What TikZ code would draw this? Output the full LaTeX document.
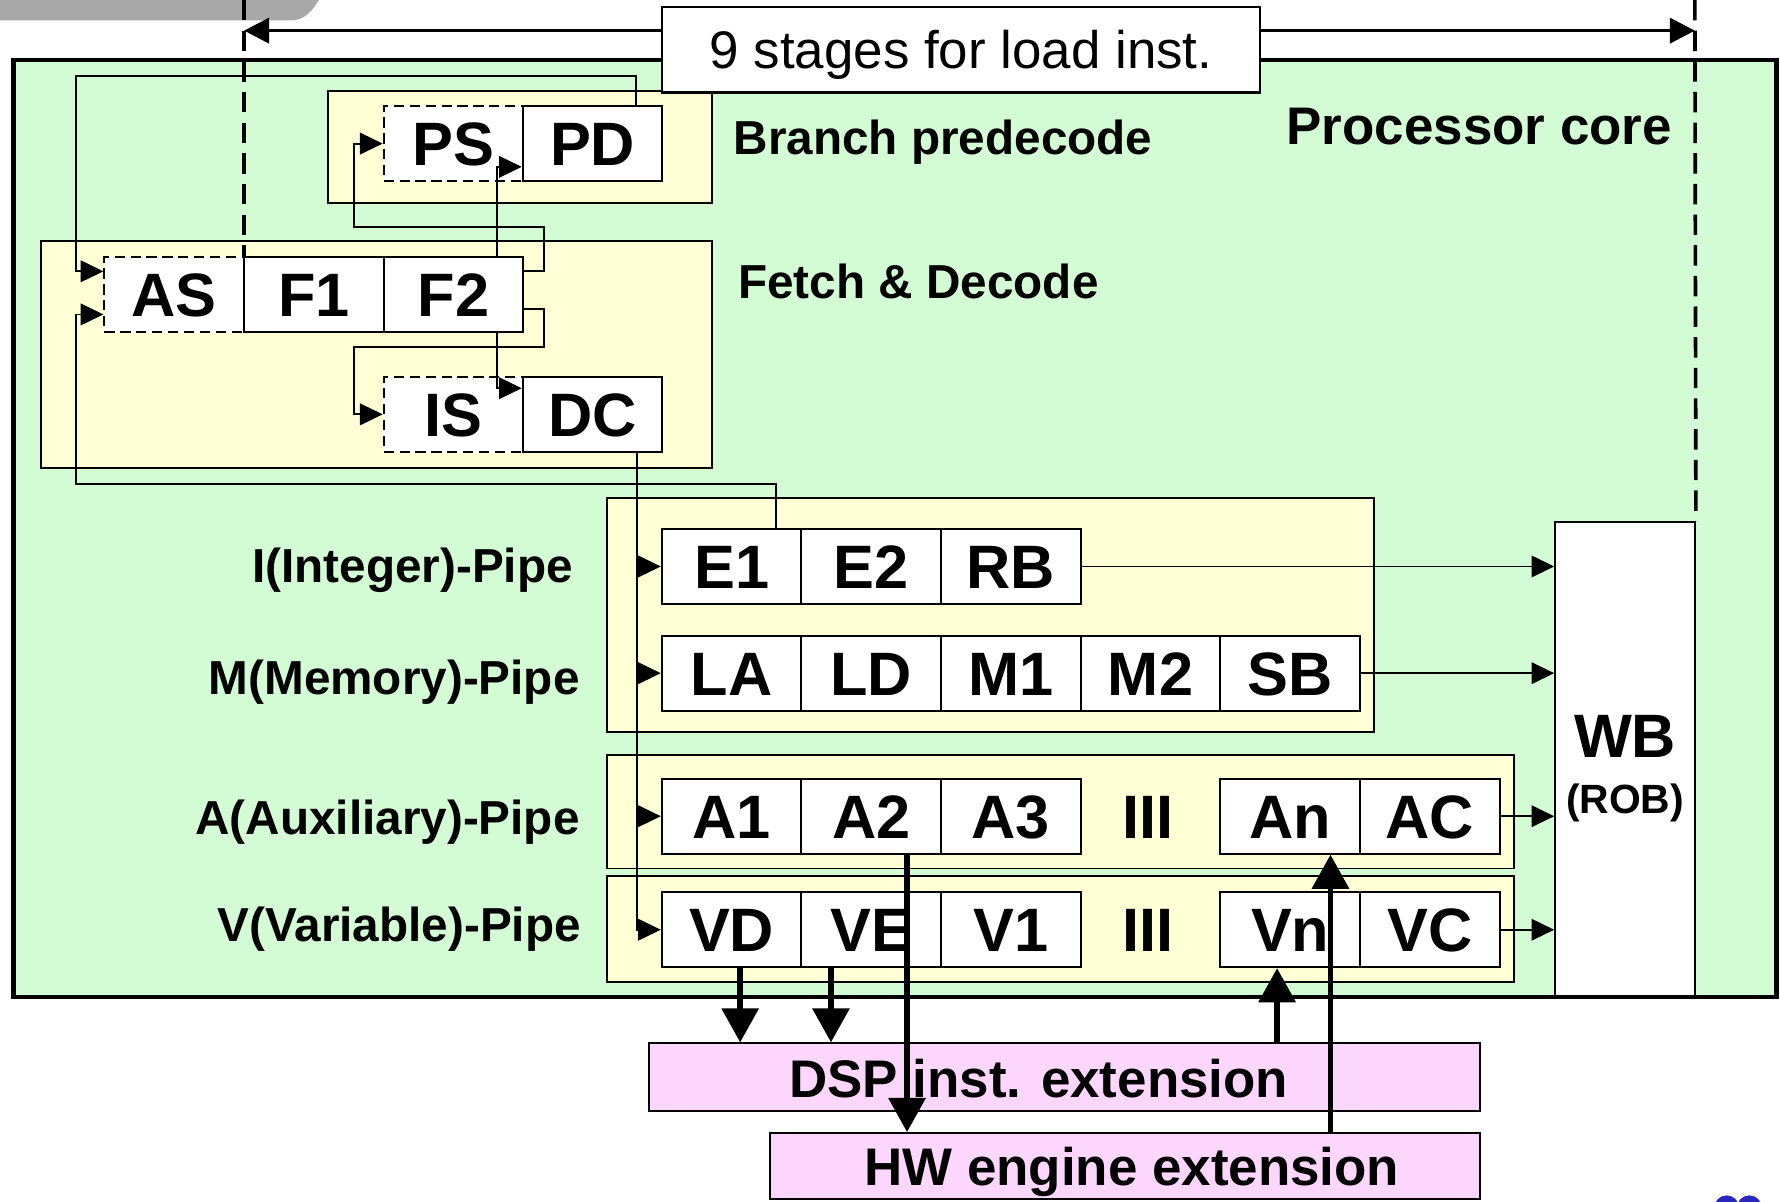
\documentclass[tikz,border=0pt]{standalone}
\usepackage{fontspec}
\setmainfont{Liberation Sans}
\usetikzlibrary{arrows.meta,calc}
\definecolor{coregreen}{RGB}{212,252,212}
\definecolor{pipeyellow}{RGB}{255,255,214}
\definecolor{extpink}{RGB}{252,214,252}
\definecolor{tabgrey}{RGB}{168,168,168}
\definecolor{logoblue}{RGB}{40,40,190}
\tikzset{
  stage/.style={draw, line width=0.9pt, fill=white, minimum width=61.5pt, minimum height=33pt, inner sep=0pt,
    font=\fontsize{27}{30}\selectfont\bfseries, text height=19.3pt, text depth=0pt},
  dstage/.style={stage, dash pattern=on 4.5pt off 2.5pt},
  container/.style={draw, line width=0.8pt, fill=pipeyellow},
  conn/.style={line width=0.8pt},
  arr/.style={conn, -{Triangle[length=10pt,width=9.5pt]}},
  tarr/.style={line width=2.4pt, -{Triangle[length=15pt,width=16pt]}},
  toparr/.style={line width=1.6pt, {Triangle[length=11pt,width=11pt]}-{Triangle[length=11pt,width=11pt]}},
  seclabel/.style={inner sep=0pt, font=\fontsize{21}{24}\selectfont\bfseries, text height=15pt, text depth=0pt},
  biglabel/.style={inner sep=0pt, font=\fontsize{23.3}{26}\selectfont\bfseries, text height=16.7pt, text depth=0pt},
  stagetext/.style={inner sep=0pt, font=\fontsize{27}{30}\selectfont\bfseries, text height=19.3pt, text depth=0pt},
  dashline/.style={line width=1.6pt, dash pattern=on 9pt off 4.5pt},
  extbox/.style={draw, line width=0.8pt, fill=extpink, inner sep=0pt},
}
\begin{document}
\begin{tikzpicture}[x=0.5pt,y=-0.5pt]
\useasboundingbox (0,0) rectangle (1568,1058);
% grey tab
\fill[tabgrey] (0,-2) -- (282,-2) to[out=-120,in=0] (256,18) -- (0,18) -- cycle;
% processor core
\draw[line width=1.9pt, fill=coregreen] (12,53) rectangle (1565,878);
% containers
\path[container] (289,80) rectangle (627,179);
\path[container] (36,212) rectangle (627,412);
\path[container] (535,439) rectangle (1210,645);
\path[container] (535,665) rectangle (1334,765);
\path[container] (535,772) rectangle (1334,865);
% stages
\node[dstage] (PS) at (399.5,126.5) {PS};
\node[stage]  (PD) at (522,126.5) {PD};
\node[dstage] (AS) at (153.5,259.5) {AS};
\node[stage]  (F1) at (276.5,259.5) {F1};
\node[stage]  (F2) at (399.5,259.5) {F2};
\node[dstage] (IS) at (399.5,365) {IS};
\node[stage]  (DC) at (522,365) {DC};
\node[stage] (E1) at (644.5,499) {E1};
\node[stage] (E2) at (767.5,499) {E2};
\node[stage] (RB) at (890.5,499) {RB};
\node[stage] (LA) at (644.5,593) {LA};
\node[stage] (LD) at (767.5,593) {LD};
\node[stage] (M1) at (890.5,593) {M1};
\node[stage] (M2) at (1013.5,593) {M2};
\node[stage] (SB) at (1136.5,593) {SB};
\node[stage] (A1) at (644.5,719) {A1};
\node[stage] (A2) at (767.5,719) {A2};
\node[stage] (A3) at (890.5,719) {A3};
\node[stagetext] (adots) at (1011,719) {III};
\node[stage] (An) at (1136.5,719) {An};
\node[stage] (AC) at (1259.5,719) {AC};
\node[stage] (VD) at (644.5,819) {VD};
\node[stage] (VE) at (767.5,819) {VE};
\node[stage] (V1) at (890.5,819) {V1};
\node[stagetext] (vdots) at (1011,819) {III};
\node[stage] (Vn) at (1136.5,819) {Vn};
\node[stage] (VC) at (1259.5,819) {VC};
% WB
\node[draw, line width=0.9pt, fill=white, minimum width=61.5pt, minimum height=208.5pt, inner sep=0pt] (WB) at (1431.5,668.5) {};
\node[stagetext] (wbT) at (1431.5,648) {WB};
\node[inner sep=0pt, font=\fontsize{18}{20}\selectfont\bfseries, text height=12.9pt, text depth=0pt] (robT) at (1431.5,704) {(ROB)};
% extension boxes
\node[extbox, minimum width=366pt, minimum height=30pt] (DSP) at (938,949) {};
\node[extbox, minimum width=313pt, minimum height=29pt] (HW) at (991,1027) {};
% logo fragment
\fill[logoblue] (1521,1064) circle[radius=11] (1541,1064) circle[radius=11];
% thin connectors
\coordinate (fbTop) at (67,67);
\coordinate (fbBot) at (67,426);
\draw[arr] ($(PD.north east)+(-24,0)$) |- (fbTop) |- ($(AS.west)+(0,-20.5)$);
\draw[arr] ($(E1.north east)+(-23,0)$) |- (fbBot) |- ($(AS.west)+(0,17.5)$);
\draw[arr] ($(F2.east)+(0,-20.5)$) -| (479,200) -| ($(PS.west)+(-25,0)$) -- (PS.west);
\draw[arr] ($(F2.east)+(0,12.5)$) -| (479,306) -| ($(IS.west)+(-25,0)$) -- (IS.west);
\draw[arr] ($(F2.north east)+(-24,0)$) |- ($(PD.west)+(0,20.5)$);
\draw[arr] ($(F2.south east)+(-24,0)$) |- ($(DC.west)+(0,-23)$);
\coordinate (busTop) at ($(DC.south east)+(-23,0)$);
\draw[arr] (busTop) |- (VD.west);
\foreach \n in {E1,LA,A1} \draw[arr] (busTop |- \n.west) -- (\n.west);
\foreach \n in {RB,SB,AC,VC} \draw[arr] (\n.east) -- (\n.east -| WB.west);
% thick connectors
\coordinate (vdo) at ($(VD.south)+(7.5,0)$);
\coordinate (veo) at ($(VE.south)+(-35.5,0)$);
\coordinate (a2o) at ($(A2.south)+(31.5,0)$);
\coordinate (vno) at ($(Vn.south)+(-11.5,0)$);
\coordinate (ano) at ($(An.south)+(35.5,0)$);
\draw[tarr] (vdo) -- (vdo |- DSP.north);
\draw[tarr] (veo) -- (veo |- DSP.north);
\draw[tarr] (a2o) -- (a2o |- HW.north);
\draw[tarr] (vno |- DSP.north) -- (vno);
\draw[tarr] (ano |- HW.north) -- (ano);
% dashed stage-range lines and top arrow
\coordinate (dL) at (215,0);
\coordinate (dR) at (1493,0);
\coordinate (aL) at (215,27);
\coordinate (aR) at (1493,27);
\draw[dashline] (dL) -- (dL |- F1.north);
\draw[dashline] (dR) -- (WB.north east);
\draw[toparr] (aL) -- (aR);
\node[draw, line width=0.9pt, fill=white, minimum width=263.5pt, minimum height=37.5pt, inner sep=0pt,
  font=\fontsize{23.3}{26}\selectfont, text height=16.7pt, text depth=0pt] (lbl) at (846.5,44) {9 stages for load inst.};
% labels
\node[biglabel, anchor=west] (coreT) at (1133,111) {Processor core};
\node[seclabel, anchor=west] (bpT) at (646,121) {Branch predecode};
\node[seclabel, anchor=west] (fdT) at (650,248) {Fetch \& Decode};
\node[seclabel, anchor=east] (ipT) at (505,498) {I(Integer)-Pipe};
\node[seclabel, anchor=east] (mpT) at (511,597) {M(Memory)-Pipe};
\node[seclabel, anchor=east] (apT) at (511,720) {A(Auxiliary)-Pipe};
\node[seclabel, anchor=east] (vpT) at (512,814) {V(Variable)-Pipe};
\node[biglabel] (dspT) at (915,950) {DSP inst. extension};
\node[biglabel] (hwT) at (997,1028) {HW engine extension};
\end{tikzpicture}
\end{document}
